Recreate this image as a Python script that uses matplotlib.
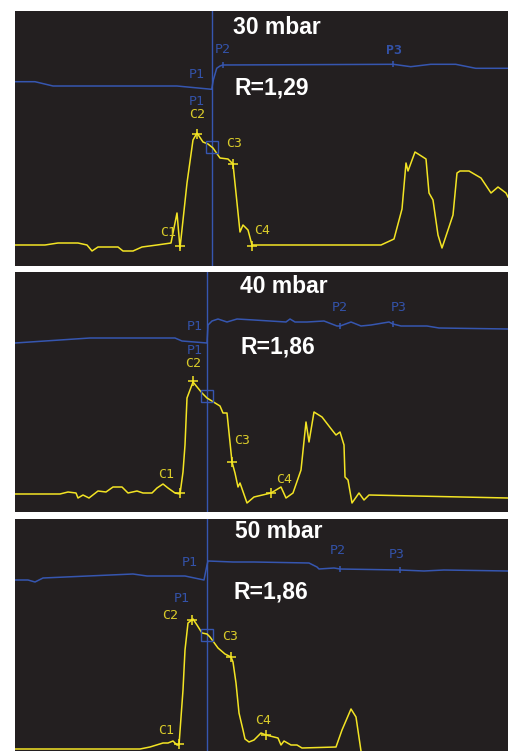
import matplotlib.pyplot as plt

BG = "#231f20"
BLUE = "#3656b0"
BLUE_TEXT = "#3352a8"
YELLOW = "#f3e424"
YELLOW_TEXT = "#d9cb2a"

# panel frame: (top px, bottom px) in the 751 px tall figure
PANEL_ROWS = [(11, 266), (272, 512), (519, 751)]
TIME_SPAN = 493

TITLES = ["30 mbar", "40 mbar", "50 mbar"]
RATIOS = ["R=1,29", "R=1,86", "R=1,86"]

# --- 30 mbar ---
p30_time = [0, 20, 38, 162, 196.7, 198.3, 201.7, 205, 207.7, 378.3, 395.7, 415.7, 440.7, 460.7, 493]
p30_value = [184.3, 184.3, 180, 180, 176.7, 186, 197.7, 200, 201, 201.7, 199.3, 201.7, 201.7, 197.7, 197.7]
c30_time = [0, 30, 43, 63, 72, 77, 83, 103, 108, 118, 127, 142, 156, 162, 165, 172, 178, 182,
            188, 193, 198, 205, 213, 218, 225, 228, 233, 237, 366, 379, 387, 391, 393, 400,
            411, 414, 418, 423, 427, 432, 438, 442, 445, 454, 466, 476, 483, 491, 493]
c30_value = [21, 21, 23, 23, 21, 15, 19, 19, 15, 15, 19, 21, 23, 53, 18, 83, 126, 133,
             124, 122, 118, 108, 107, 102, 34, 41, 36, 21, 21, 27, 57, 103, 95, 114,
             107, 73, 66, 31, 18, 33, 51, 93, 95, 95, 88, 73, 79, 73, 69]
p30_cursor = 196.7
p30_ticks = {"P2": (207.7, 201), "P3": (378.3, 201.7)}
c30_marks = {"C1": (165, 20), "C2": (182, 132), "C3": (218, 102), "C4": (237, 20)}
p30_box = (196.7, 119.3)
labels_30 = {
    "P1a": ("P1", 182.2, 191.8), "P1b": ("P1", 182.2, 164.3), "P2": ("P2", 207.8, 216.5),
    "P3": ("P3", 379, 216), "C1": ("C1", 153, 34), "C2": ("C2", 182.5, 151.3),
    "C3": ("C3", 219.2, 122.2), "C4": ("C4", 247, 35),
}

# --- 40 mbar ---
p40_time = [0, 75, 160, 167, 192, 193, 197, 203, 212, 222, 239, 271, 275, 280, 292, 309,
            322, 325, 336, 346, 356, 374, 378, 386, 412, 424, 493]
p40_value = [169, 174, 174, 171, 169, 187, 191, 193, 190, 193, 192, 190, 193, 190, 190, 191,
             186, 186, 190, 186, 187, 190, 188, 186, 186, 184, 183]
c40_time = [0, 45, 53, 61, 63, 68, 74, 83, 91, 98, 107, 113, 122, 128, 137, 142, 148, 153,
            160, 165, 168, 170, 172, 178, 187, 192, 205, 208, 212, 217, 220, 223, 225, 232,
            239, 256, 266, 271, 278, 286, 291, 294, 299, 307, 317, 321, 325, 329, 330, 333,
            337, 344, 349, 354, 493]
c40_value = [18, 18, 20, 19, 14, 17, 14, 21, 20, 25, 25, 19, 21, 19, 19, 24, 28, 24,
             19, 18, 40, 67, 114, 130, 119, 114, 106, 99, 99, 50, 39, 25, 29, 9,
             15, 19, 25, 14, 19, 42, 90, 70, 100, 95, 82, 77, 80, 67, 35, 32,
             9, 19, 12, 17, 14]
p40_cursor = 191.8
p40_ticks = {"P2": (325, 186), "P3": (378, 188)}
c40_marks = {"C1": (165, 19), "C2": (178, 131), "C3": (217, 50), "C4": (256, 19)}
p40_box = (192.2, 116)
labels_40 = {
    "P1a": ("P1", 179.7, 185.3), "P1b": ("P1", 179.7, 161.8), "P2": ("P2", 325, 204.3),
    "P3": ("P3", 384, 204.3), "C1": ("C1", 151, 37.7), "C2": ("C2", 178.5, 148.7),
    "C3": ("C3", 226.7, 72), "C4": ("C4", 269.5, 32.7),
}

# --- 50 mbar ---
p50_time = [0, 13, 20, 28, 118, 132, 170, 189, 192, 193, 218, 239, 294, 302, 304, 319,
            325, 385, 409, 429, 493]
p50_value = [171, 171, 169, 173, 177, 175, 175, 171, 186, 190, 189, 189, 188, 184, 182, 183,
             182, 181, 180, 181, 180]
c50_time = [0, 125, 135, 148, 153, 158, 162, 164, 168, 170, 173, 178, 182, 187, 192, 195,
            203, 210, 216, 218, 221, 224, 228, 230, 234, 239, 246, 251, 263, 266, 269, 276,
            282, 287, 321, 327, 336, 341, 346, 349]
c50_value = [2, 2, 4, 8, 8, 10, 6, 6, 61, 101, 128, 132, 126, 118, 117, 114,
             103, 97, 94, 89, 68, 38, 21, 12, 9, 11, 18, 16, 13, 6, 10, 6,
             6, 3, 4, 21, 42, 34, 0, -9]
p50_cursor = 191.7
p50_ticks = {"P2": (325, 182), "P3": (385, 181)}
c50_marks = {"C1": (164, 7), "C2": (177, 131), "C3": (216, 94), "C4": (251, 16)}
p50_box = (191.7, 116)
labels_50 = {
    "P1a": ("P1", 174.5, 188.8), "P1b": ("P1", 167, 152.2), "P2": ("P2", 322.3, 200),
    "P3": ("P3", 381.7, 197), "C1": ("C1", 151.5, 20), "C2": ("C2", 155.5, 135.2),
    "C3": ("C3", 215.2, 114), "C4": ("C4", 248, 30.3),
}

PANELS = [
    (p30_time, p30_value, c30_time, c30_value, p30_cursor, p30_ticks, c30_marks, p30_box, labels_30),
    (p40_time, p40_value, c40_time, c40_value, p40_cursor, p40_ticks, c40_marks, p40_box, labels_40),
    (p50_time, p50_value, c50_time, c50_value, p50_cursor, p50_ticks, c50_marks, p50_box, labels_50),
]
TITLE_POS = [(218, 239, 220, 178), (225, 225.3, 225, 165.3), (220, 219.3, 218.3, 159.3)]


def draw_panel(fig, row, panel, title, ratio, text_pos, bold_p3=False):
    top, bottom = row
    height = bottom - top
    ax = fig.add_axes([15 / 508, (751 - bottom) / 751, TIME_SPAN / 508, height / 751])
    ax.set_facecolor(BG)
    ax.set_xlim(0, TIME_SPAN)
    ax.set_ylim(0, height)
    ax.set_xticks([])
    ax.set_yticks([])
    for spine in ax.spines.values():
        spine.set_visible(False)

    p_t, p_v, c_t, c_v, cursor, ticks, marks, box, labels = panel

    ax.axvline(cursor, color=BLUE, lw=1.0, zorder=2)
    ax.plot(p_t, p_v, color=BLUE, lw=1.1, zorder=3)
    ax.plot(c_t, c_v, color=YELLOW, lw=1.1, zorder=4, clip_on=True)

    for t, v in ticks.values():
        ax.plot(t, v, marker="|", ms=5, mew=1.1, color=BLUE, zorder=5)
    for t, v in marks.values():
        ax.plot(t, v, marker="+", ms=7, mew=1.1, color=YELLOW, zorder=5)
    ax.plot(box[0], box[1], marker="s", ms=8.5, mfc="none", mec=BLUE, mew=1.0, zorder=5)

    for key, (txt, t, v) in labels.items():
        color = YELLOW_TEXT if txt.startswith("C") else BLUE_TEXT
        weight = "bold" if (key == "P3" and bold_p3) else "normal"
        ax.text(t, v, txt, color=color, fontsize=9.5, family="DejaVu Sans Mono",
                weight=weight, ha="center", va="center", zorder=6)

    tx, ty, rx, ry = text_pos
    ax.text(tx, ty, title, color="white", fontsize=16.5, weight="bold",
            family="Liberation Sans", ha="left", va="center", zorder=7)
    ax.text(rx, ry, ratio, color="white", fontsize=16.5, weight="bold",
            family="Liberation Sans", ha="left", va="center", zorder=7)


def main() -> None:
    fig = plt.figure(figsize=(5.08, 7.51), dpi=100)
    fig.patch.set_facecolor("white")
    for i, panel in enumerate(PANELS):
        draw_panel(fig, PANEL_ROWS[i], panel, TITLES[i], RATIOS[i], TITLE_POS[i], bold_p3=(i == 0))
    fig.savefig("out.png", dpi=100, facecolor="white")


if __name__ == "__main__":
    main()
